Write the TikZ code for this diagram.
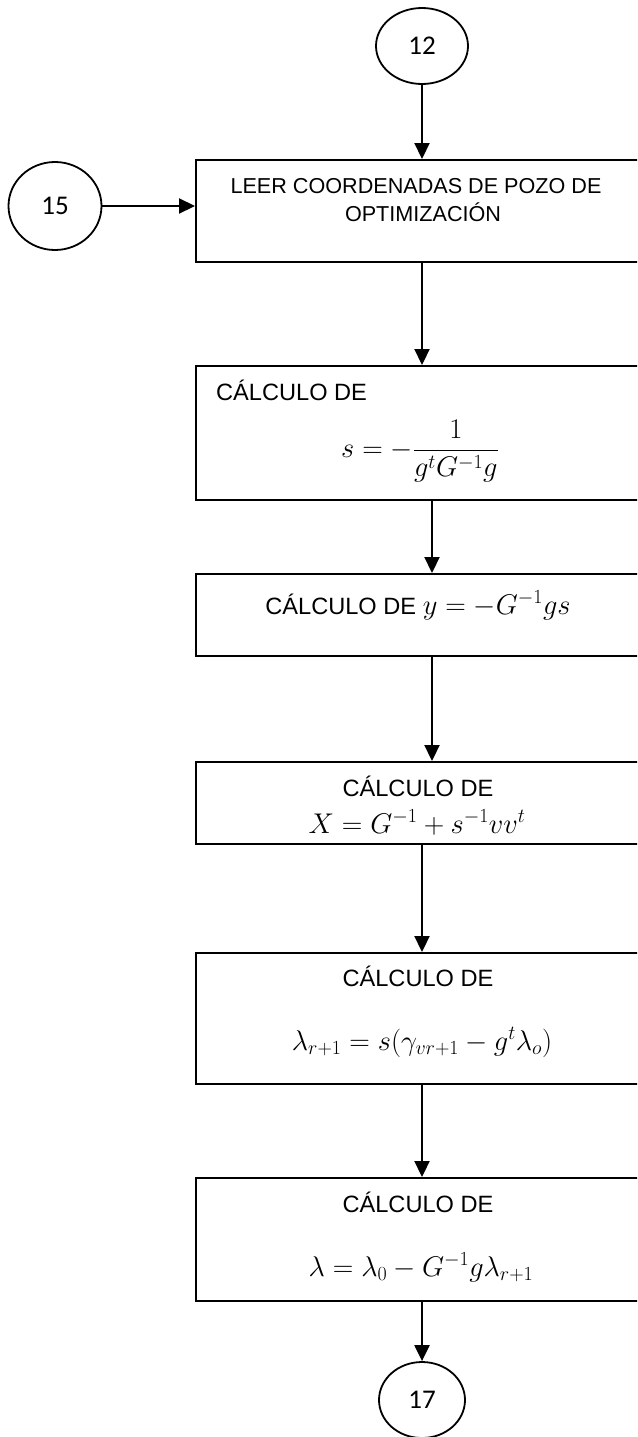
\RequirePackage{fix-cm}
\documentclass[tikz,border=0pt]{standalone}
\usepackage{amsmath}
\usepackage[no-math]{fontspec}
\setmainfont{Liberation Sans}
\newfontfamily\numfont{Carlito}
\usetikzlibrary{arrows.meta,shapes.geometric}

\begin{document}
\begin{tikzpicture}[x=1pt,y=-1pt,
  box/.style={draw,line width=2pt,rectangle,minimum width=446pt,inner sep=0pt},
  conn/.style={draw,line width=1.8pt,ellipse,inner sep=0pt,
    font=\numfont\fontsize{27}{32}\selectfont},
  arr/.style={line width=2.2pt,-{Triangle[length=16pt,width=15pt]}},
  lbl/.style={font=\fontsize{23.6}{28}\selectfont,inner sep=0pt,anchor=base},
  head/.style={font=\fontsize{21.6}{26}\selectfont,inner sep=0pt,anchor=base},
  eq/.style={font=\fontsize{28.5}{34}\selectfont,inner sep=0pt,anchor=base}]
\clip (0,0) rectangle (637,1437);

% connectors (off-page references)
\node[conn,minimum width=92pt,minimum height=76pt] (c12) at (422,46) {12};
\node[conn,minimum width=93pt,minimum height=88pt] (c15) at (55,206) {15};
\node[conn,minimum width=86pt,minimum height=76pt] (c17) at (422,1400) {17};

% process boxes
\node[box,minimum height=102pt] (b1) at (419,211) {};
\node[box,minimum height=134pt] (b2) at (419,433) {};
\node[box,minimum height=82pt]  (b3) at (419,615) {};
\node[box,minimum height=82pt]  (b4) at (419,803) {};
\node[box,minimum height=131pt] (b5) at (419,1018.5) {};
\node[box,minimum height=123pt] (b6) at (419,1239.5) {};

% box texts
\node[head] (t1a) at (416,193) {LEER COORDENADAS DE POZO DE};
\node[head] (t1b) at (423,221) {OPTIMIZACIÓN};

\node[lbl,anchor=base west] (t2) at (216,400) {CÁLCULO DE};
\node[font=\fontsize{28.5}{34}\selectfont,inner sep=0pt] (f2) at (420,451)
  {$s=-\dfrac{1}{g^tG^{-1}g}$};

\node[lbl] (t3) at (418,614) {CÁLCULO DE \fontsize{28.5}{34}\selectfont$y=-G^{-1}gs$};

\node[lbl] (t4) at (418,796) {CÁLCULO DE};
\node[eq]  (f4) at (417,833) {$X=G^{-1}+s^{-1}vv^t$};

\node[lbl] (t5) at (418,986) {CÁLCULO DE};
\node[eq]  (f5) at (422,1050) {$\lambda_{r+1}=s(\gamma_{vr+1}-g^t\lambda_o)$};

\node[lbl] (t6) at (418,1212) {CÁLCULO DE};
\node[eq]  (f6) at (421,1276) {$\lambda=\lambda_0-G^{-1}g\lambda_{r+1}$};

% flow arrows
\draw[arr] (c12.south) -- (c12.south |- b1.north);
\draw[arr] (c15.east) -- (c15.east -| b1.west);
\draw[arr] ([xshift=3pt]b1.south) -- ([xshift=3pt]b2.north);
\draw[arr] ([xshift=13pt]b2.south) -- ([xshift=13pt]b3.north);
\draw[arr] ([xshift=13pt]b3.south) -- ([xshift=13pt]b4.north);
\draw[arr] ([xshift=3pt]b4.south) -- ([xshift=3pt]b5.north);
\draw[arr] ([xshift=3pt]b5.south) -- ([xshift=3pt]b6.north);
\draw[arr] (c17.north |- b6.south) -- (c17.north);
\end{tikzpicture}
\end{document}
